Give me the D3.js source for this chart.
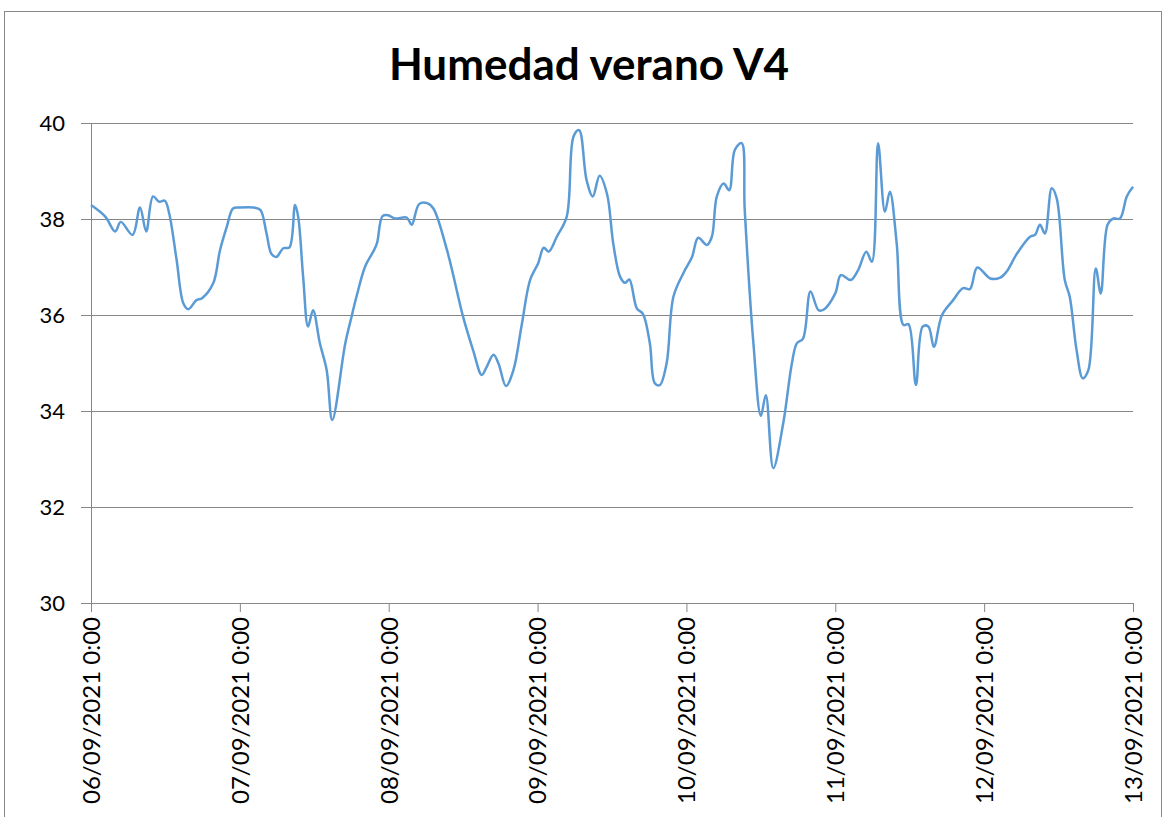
<!DOCTYPE html>
<html>
<head>
<meta charset="utf-8">
<script src="https://cdn.jsdelivr.net/npm/d3@7"></script>
<style>
  body { margin: 0; background: #fff; }
  text { font-family: Lato, "Open Sans", sans-serif; fill: #000; }
</style>
</head>
<body>
<div id="chart"></div>
<script>
// hours since 06/09/2021 0:00
const hours = [0, 2.3, 3.9, 4.8, 6.7, 7.9, 8.9, 10.0, 11.0, 11.9, 12.6, 13.8, 14.9, 15.7, 17.0, 17.9,
  19.7, 20.8, 21.9, 22.9, 24.0, 26.2, 27.3, 28.3, 29.1, 29.9, 31.0, 32.0, 32.9, 33.4, 34.2, 35.0,
  35.8, 36.9, 38.0, 38.9, 41.0, 42.0, 42.8, 44.2, 45.5, 46.1, 47.0, 47.9, 49.0, 50.9, 51.7, 52.9,
  54.2, 55.2, 57.4, 60.0, 61.6, 63.0, 63.8, 64.9, 65.7, 66.9, 68.1, 69.4, 70.8, 72.1, 73.0, 73.8,
  75.1, 76.7, 77.8, 78.7, 79.9, 80.9, 82.0, 83.2, 84.2, 85.3, 86.1, 86.8, 88.0, 89.0, 90.1, 90.9,
  91.7, 92.8, 93.9, 95.5, 96.9, 97.9, 99.3, 100.1, 100.9, 102.0, 102.9, 103.8, 104.9, 105.4, 106.8,
  108.0, 108.8, 110.0, 111.6, 113.0, 113.8, 114.8, 116.0, 117.3, 118.1, 120.0, 120.9, 122.5, 123.7,
  125.0, 125.9, 126.9, 128.0, 128.8, 129.9, 131.0, 131.8, 133.0, 134.1, 135.0, 135.9, 137.2, 139.0,
  140.6, 141.7, 142.9, 145.0, 146.6, 147.6, 149.3, 151.4, 152.2, 153.0, 153.8, 154.9, 155.7, 157.0,
  157.8, 158.9, 159.9, 160.8, 162.0, 162.8, 163.9, 164.8, 165.9, 167.0, 168.0];
const humidity = [38.29, 38.05, 37.74, 37.94, 37.67, 38.24, 37.74, 38.47, 38.36, 38.38, 38.12, 37.15, 36.24, 36.12, 36.31, 36.35,
  36.66, 37.35, 37.84, 38.22, 38.24, 38.24, 38.19, 37.70, 37.27, 37.21, 37.39, 37.41, 38.29, 38.05, 36.80, 35.76,
  36.10, 35.41, 34.85, 33.81, 35.41, 35.96, 36.38, 37.01, 37.32, 37.49, 38.06, 38.08, 38.01, 38.03, 37.88, 38.31,
  38.33, 38.22, 37.35, 35.96, 35.27, 34.75, 34.92, 35.17, 34.99, 34.52, 34.85, 35.76, 36.73, 37.08, 37.40, 37.32,
  37.63, 38.05, 39.72, 39.85, 38.81, 38.47, 38.90, 38.52, 37.49, 36.80, 36.67, 36.74, 36.14, 36.02, 35.41, 34.58,
  34.54, 34.99, 36.38, 36.87, 37.21, 37.61, 37.46, 37.63, 38.47, 38.74, 38.60, 39.44, 39.58, 38.19, 35.41,
  33.90, 34.33, 32.81, 33.74, 34.99, 35.41, 35.51, 36.49, 36.10, 36.11, 36.45, 36.83, 36.73, 36.94,
  37.32, 37.11, 39.58, 38.15, 38.57, 37.49, 35.79, 35.81, 34.54, 35.76, 35.76, 35.34, 36.00, 36.31,
  36.56, 36.54, 36.99, 36.76, 36.78, 36.90, 37.28, 37.63, 37.67, 37.88, 37.70, 38.64, 38.43, 36.73,
  36.38, 35.27, 34.68, 34.85, 36.97, 36.45, 37.88, 38.01, 38.01, 38.47, 38.67];
const yTicks = [30, 32, 34, 36, 38, 40];
const dayLabels = ["06/09/2021 0:00", "07/09/2021 0:00", "08/09/2021 0:00", "09/09/2021 0:00",
  "10/09/2021 0:00", "11/09/2021 0:00", "12/09/2021 0:00", "13/09/2021 0:00"];

const W = 1163, H = 817;
const margin = { top: 123, right: 30, bottom: 214, left: 91 };
const width = W - margin.left - margin.right;
const height = H - margin.top - margin.bottom;

const start = new Date(2021, 8, 6, 0, 0);
const data = hours.map((h, i) => ({ t: d3.timeMinute.offset(start, Math.round(h * 60)), v: humidity[i] }));
const days = dayLabels.map((d, i) => d3.timeDay.offset(start, i));

const svg = d3.select("#chart").append("svg")
  .attr("width", W).attr("height", H);

// chart frame
svg.append("rect")
  .attr("x", 4.5).attr("y", 11.5)
  .attr("width", 1157).attr("height", 820)
  .attr("fill", "none").attr("stroke", "#888").attr("stroke-width", 1);

svg.append("text")
  .attr("x", 589).attr("y", 80)
  .attr("text-anchor", "middle")
  .style("font-size", "44px").style("font-weight", "bold")
  .text("Humedad verano V4");

const g = svg.append("g").attr("transform", "translate(" + margin.left + "," + margin.top + ")");

const x = d3.scaleTime().domain([days[0], days[days.length - 1]]).range([0, width]);
const y = d3.scaleLinear().domain([30, 40]).range([height, 0]);

// gridlines
g.append("g")
  .selectAll("line")
  .data(yTicks.filter(d => d > 30))
  .enter().append("line")
  .attr("x1", 0).attr("x2", width)
  .attr("y1", d => Math.round(y(d)) + 0.5).attr("y2", d => Math.round(y(d)) + 0.5)
  .attr("stroke", "#868686").attr("stroke-width", 1);

// y axis
const yAxis = g.append("g")
  .call(d3.axisLeft(y).tickValues(yTicks).tickSize(10).tickPadding(16).tickFormat(d3.format("d")));
yAxis.select(".domain").attr("stroke", "#868686");
yAxis.selectAll(".tick line").attr("stroke", "#868686");
yAxis.selectAll(".tick text").style("font-size", "22px").attr("fill", "#000");

// x axis
const xAxis = g.append("g")
  .attr("transform", "translate(0," + height + ")")
  .call(d3.axisBottom(x).tickValues(days).tickSize(9)
    .tickFormat((d, i) => dayLabels[i]));
xAxis.select(".domain").attr("stroke", "#868686");
xAxis.selectAll(".tick line").attr("stroke", "#868686");
xAxis.selectAll(".tick text")
  .style("font-size", "24px").attr("fill", "#000")
  .attr("text-anchor", "end")
  .attr("transform", "rotate(-90)")
  .attr("x", -14).attr("y", 0).attr("dy", "0.35em");

// the humidity line
const line = d3.line()
  .x(d => x(d.t))
  .y(d => y(d.v))
  .curve(d3.curveCatmullRom.alpha(0.5));

g.append("path")
  .datum(data)
  .attr("fill", "none")
  .attr("stroke", "#5b9bd5")
  .attr("stroke-width", 2.5)
  .attr("stroke-linejoin", "round")
  .attr("d", line);
</script>
</body>
</html>
